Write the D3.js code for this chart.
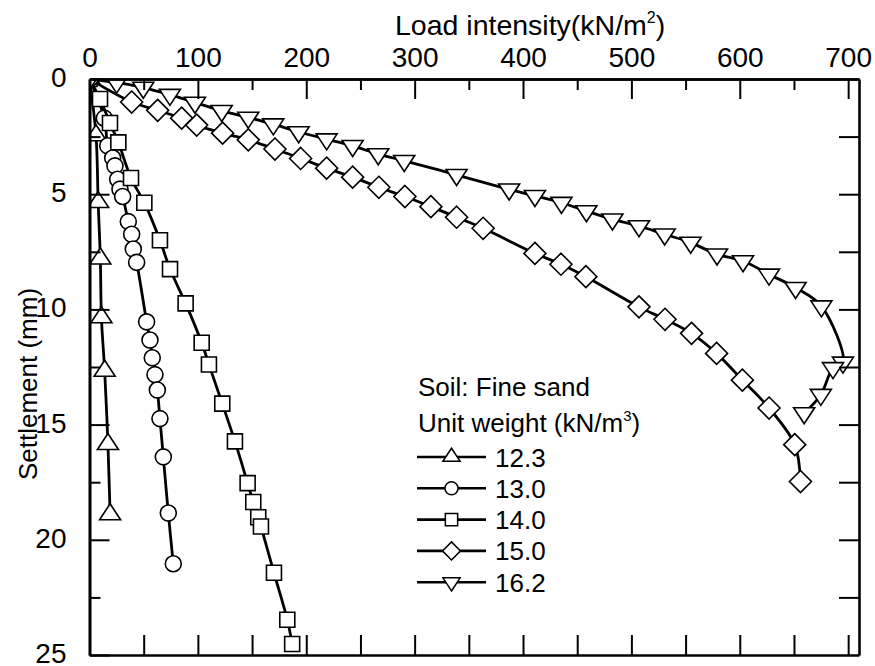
<!DOCTYPE html>
<html>
<head>
<meta charset="utf-8">
<script src="https://cdn.jsdelivr.net/npm/d3@7"></script>
<style>
  body { margin: 0; background: #fff; }
  svg text { font-family: "Liberation Sans", Arial, sans-serif; fill: #000; }
</style>
</head>
<body>
<div id="chart"></div>
<script>
// unit weights (kN/m3) in legend order
var weights = ["12.3", "13.0", "14.0", "15.0", "16.2"];
var shapes = ["triUp", "circle", "square", "diamond", "triDown"];

// load intensity (kN/m2) and settlement (mm)
var load_12_3 = [0, 6, 8, 10, 11, 14, 17, 19];
var settle_12_3 = [0, 2.45, 5.35, 7.8, 10.35, 12.67, 15.85, 18.9];

var load_13_0 = [0, 13.7, 16.8, 21.4, 23.5, 26, 28.1, 30.6, 35.8, 38.9, 40.4, 43.5, 52.7, 55.8, 57.9, 60.4, 62.6, 65, 68.1, 72.7, 77.3];
var settle_13_0 = [0, 1.7, 2.9, 3.43, 3.77, 4.35, 4.78, 5.1, 6.19, 6.74, 7.38, 7.96, 10.54, 11.33, 12.1, 12.83, 13.5, 14.74, 16.4, 18.84, 21.04];

var load_14_0 = [0, 9.7, 18.9, 26.6, 38.3, 50.6, 65, 74.3, 88.7, 103.5, 110.2, 122.5, 134.2, 145.9, 151.1, 155.7, 158.2, 170.2, 182.5, 187];
var settle_14_0 = [0, 0.87, 1.91, 2.75, 4.3, 5.37, 7.0, 8.25, 9.74, 11.45, 12.39, 14.09, 15.73, 17.54, 18.36, 19.02, 19.42, 21.43, 23.47, 24.52];

var load_15_0 = [0, 38.9, 62.9, 85, 98.9, 122.8, 146.5, 171.1, 194.8, 218.8, 242.8, 267, 291, 315, 338.7, 363.2, 411, 435, 458, 507, 531, 555.5, 578.6, 602.4, 627, 650.7, 656];
var settle_15_0 = [0, 1.0, 1.36, 1.7, 2.0, 2.35, 2.64, 3.04, 3.45, 3.87, 4.26, 4.7, 5.1, 5.54, 6.0, 6.48, 7.57, 8.04, 8.58, 9.89, 10.43, 11.04, 11.91, 13.07, 14.28, 15.87, 17.47];

var load_16_2 = [0, 25, 49.6, 74.2, 97.3, 122, 146.5, 169.6, 193, 218.8, 242.8, 266.4, 290.4, 338.7, 387.2, 411, 435.5, 458.5, 482.5, 507, 530.7, 554.7, 579, 603, 627, 651.5, 675.3, 695.2, 686, 674.8, 659.4];
var settle_16_2 = [0, 0.15, 0.37, 0.68, 1.02, 1.38, 1.67, 1.96, 2.3, 2.61, 2.9, 3.26, 3.55, 4.16, 4.79, 5.07, 5.37, 5.73, 6.09, 6.38, 6.74, 7.1, 7.61, 7.9, 8.48, 9.06, 9.86, 12.3, 12.54, 13.7, 14.5];

var xTicks = [0, 100, 200, 300, 400, 500, 600, 700];
var yTicks = [0, 5, 10, 15, 20, 25];

var loads = [load_12_3, load_13_0, load_14_0, load_15_0, load_16_2];
var settles = [settle_12_3, settle_13_0, settle_14_0, settle_15_0, settle_16_2];

var width = 875, height = 666;
var plotL = 89.5, plotR = 859, plotT = 79, plotB = 655;

var svg = d3.select("#chart").append("svg")
    .attr("width", width).attr("height", height);

var x = d3.scaleLinear().domain([0, 710]).range([plotL, plotR]);
var y = d3.scaleLinear().domain([0, 25]).range([plotT, plotB]);

svg.append("clipPath").attr("id", "plot")
  .append("rect")
    .attr("x", plotL).attr("y", plotT)
    .attr("width", plotR - plotL).attr("height", plotB - plotT);

function marker(shape, s) {
    if (shape == "circle") return "M" + (8 * s) + ",0A" + (8 * s) + "," + (8 * s) + " 0 1,1 " + (-8 * s) + ",0A" + (8 * s) + "," + (8 * s) + " 0 1,1 " + (8 * s) + ",0Z";
    if (shape == "square") return "M" + (-7.5 * s) + "," + (-7.5 * s) + "h" + (15 * s) + "v" + (15 * s) + "h" + (-15 * s) + "Z";
    if (shape == "diamond") return "M0," + (-11 * s) + "L" + (11 * s) + ",0L0," + (11 * s) + "L" + (-11 * s) + ",0Z";
    if (shape == "triUp") return "M0," + (-10.7 * s) + "L" + (10.5 * s) + "," + (5.3 * s) + "L" + (-10.5 * s) + "," + (5.3 * s) + "Z";
    return "M0," + (10.7 * s) + "L" + (10.5 * s) + "," + (-5.3 * s) + "L" + (-10.5 * s) + "," + (-5.3 * s) + "Z";
}

var line = d3.line()
    .x(d => x(d[0]))
    .y(d => y(d[1]))
    .curve(d3.curveCatmullRom.alpha(0.5));

var plot = svg.append("g").attr("clip-path", "url(#plot)");

weights.forEach(function (w, i) {
    var pts = loads[i].map((v, j) => [v, settles[i][j]]);
    plot.append("path")
        .datum(pts)
        .attr("d", line)
        .attr("fill", "none")
        .attr("stroke", "#000")
        .attr("stroke-width", 2.8);
    plot.append("g")
        .selectAll("path")
        .data(pts)
        .join("path")
        .attr("transform", d => `translate(${x(d[0])},${y(d[1])})`)
        .attr("d", marker(shapes[i], 1))
        .attr("fill", "#fff")
        .attr("stroke", "#000")
        .attr("stroke-width", 1.6);
});

// axes, ticks pointing inward
function styleAxis(g) {
    g.selectAll("path.domain").attr("stroke-width", 2.6);
    g.selectAll(".tick line").attr("stroke-width", 2);
    g.selectAll("text").style("font-size", "28px")
        .style("font-family", "'Liberation Sans', Arial, sans-serif");
}

svg.append("g")
    .attr("transform", `translate(0,${plotT})`)
    .call(d3.axisTop(x).tickValues(d3.range(50, 700, 100)).tickSizeInner(-11).tickSizeOuter(0).tickFormat(""))
    .call(styleAxis);
svg.append("g")
    .attr("transform", `translate(0,${plotT})`)
    .call(d3.axisTop(x).tickValues(xTicks).tickSizeInner(-20).tickSizeOuter(0).tickPadding(12))
    .call(styleAxis);

svg.append("g")
    .attr("transform", `translate(0,${plotB})`)
    .call(d3.axisBottom(x).tickValues(d3.range(50, 701, 50)).tickSizeInner(-20).tickSizeOuter(0).tickFormat(""))
    .call(styleAxis);

svg.append("g")
    .attr("transform", `translate(${plotL},0)`)
    .call(d3.axisLeft(y).tickValues(d3.range(2.5, 25, 5)).tickSizeInner(-11).tickSizeOuter(0).tickFormat(""))
    .call(styleAxis);
svg.append("g")
    .attr("transform", `translate(${plotL},0)`)
    .call(d3.axisLeft(y).tickValues(yTicks).tickSizeInner(-20).tickSizeOuter(0).tickPadding(23))
    .call(styleAxis)
    .call(g => g.selectAll("text").attr("dy", "0.27em"));

svg.append("g")
    .attr("transform", `translate(${plotR},0)`)
    .call(d3.axisRight(y).tickValues(d3.range(2.5, 25, 2.5)).tickSizeInner(-20).tickSizeOuter(0).tickFormat(""))
    .call(styleAxis);

// titles
var xt = svg.append("text")
    .attr("x", 395).attr("y", 35)
    .style("font-size", "28.5px")
    .text("Load intensity(kN/m");
xt.append("tspan").attr("dy", -12).style("font-size", "16px").text("2");
xt.append("tspan").attr("dy", 12).text(")");

svg.append("text")
    .attr("transform", "translate(37,384) rotate(-90)")
    .attr("text-anchor", "middle")
    .style("font-size", "26px")
    .text("Settlement (mm)");

// legend
var lg = svg.append("g");
lg.append("text").attr("x", 418).attr("y", 396).style("font-size", "26px").text("Soil: Fine sand");
var ut = lg.append("text").attr("x", 418).attr("y", 432).style("font-size", "26px").text("Unit weight (kN/m");
ut.append("tspan").attr("dy", -11).style("font-size", "15px").text("3");
ut.append("tspan").attr("dy", 11).text(")");

weights.forEach(function (w, i) {
    var ry = 457 + i * 31.3;
    lg.append("line")
        .attr("x1", 417).attr("x2", 486)
        .attr("y1", ry).attr("y2", ry)
        .attr("stroke", "#000").attr("stroke-width", 2.6);
    lg.append("path")
        .attr("transform", `translate(451.5,${ry})`)
        .attr("d", marker(shapes[i], 0.82))
        .attr("fill", "#fff").attr("stroke", "#000").attr("stroke-width", 1.5);
    lg.append("text")
        .attr("x", 495).attr("y", ry + 9.5)
        .style("font-size", "26px")
        .text(w);
});
</script>
</body>
</html>
